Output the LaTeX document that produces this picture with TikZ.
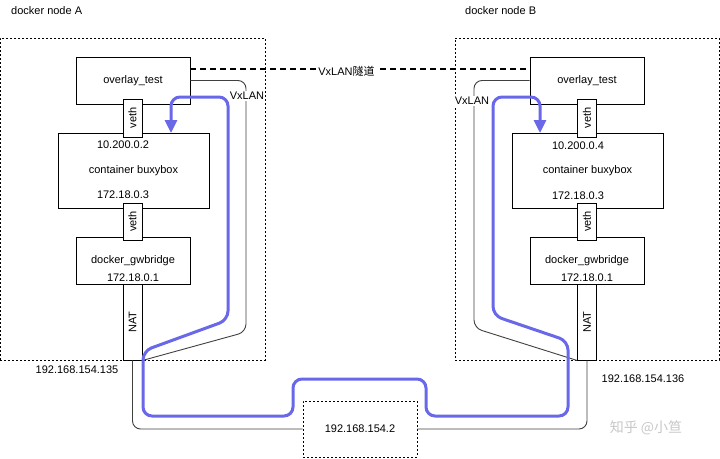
\documentclass[tikz,border=0pt]{standalone}
\usepackage{fontspec}
\setmainfont{Liberation Sans}
\newfontfamily\cjk{Noto Sans CJK SC}
\usepackage{xcolor}
\usetikzlibrary{arrows.meta,calc}
\definecolor{flow}{RGB}{104,104,232}
\tikzset{
  box/.style={draw,line width=0.9pt,fill=white,inner sep=0pt},
  host/.style={draw,dash pattern=on 2pt off 2pt,line width=0.8pt,inner sep=0pt},
  link/.style={draw,line width=0.9pt,fill=white,inner sep=0pt,minimum width=19pt},
  wire/.style={black!75,line width=0.9pt,rounded corners=8pt},
  tun/.style={line width=1.6pt,dash pattern=on 6pt off 4pt},
  flw/.style={flow,line width=3pt,rounded corners=9pt,{Triangle[length=13pt,width=12pt]}-{Triangle[length=13pt,width=12pt]}},
  lbl/.style={inner sep=1pt}
}

\begin{document}
\begin{tikzpicture}[x=1pt,y=-1pt,font=\fontsize{11}{13}\selectfont]
\useasboundingbox (0,0) rectangle (720,458);
% hosts
\node[host,minimum width=265pt,minimum height=322pt] (hostA) at (132.5,199) {};
\node[host,minimum width=264pt,minimum height=322pt] (hostB) at (587,199) {};
\node[lbl,anchor=west] (nameA) at (10,11) {docker node A};
\node[lbl,anchor=west] (nameB) at (464,11) {docker node B};
\node[host,minimum width=114pt,minimum height=56pt] (gw) at (360,429) {192.168.154.2};
% node A
\node[box,minimum width=114pt,minimum height=47pt] (ovA) at (133,80.5) {overlay\_test};
\node[box,minimum width=151pt,minimum height=75pt] (ctA) at (133.5,170.5) {container buxybox};
\node[lbl] (ipcA) at (123,145) {10.200.0.2};
\node[lbl] (ipdA) at (123,195) {172.18.0.3};
\node[box,minimum width=114pt,minimum height=47pt] (gbA) at (133,260.5) {docker\_gwbridge};
\node[lbl] (ipgA) at (133,278) {172.18.0.1};
\node[link,minimum height=38pt] (vethA1) at (132.5,118) {};
\node[rotate=90,lbl] at (vethA1) {veth};
\node[link,minimum height=37pt] (vethA2) at (132.5,221.5) {};
\node[rotate=90,lbl] at (vethA2) {veth};
\node[link,minimum height=76pt] (natA) at (132.5,322) {};
\node[rotate=90,lbl] at (natA) {NAT};
\node[lbl] (ipA) at (77,370) {192.168.154.135};
% node B
\node[box,minimum width=114pt,minimum height=47pt] (ovB) at (587,80.5) {overlay\_test};
\node[box,minimum width=151pt,minimum height=75pt] (ctB) at (587.5,170.5) {container buxybox};
\node[lbl] (ipcB) at (578,146) {10.200.0.4};
\node[lbl] (ipdB) at (578,196) {172.18.0.3};
\node[box,minimum width=114pt,minimum height=47pt] (gbB) at (587,260.5) {docker\_gwbridge};
\node[lbl] (ipgB) at (587,278) {172.18.0.1};
\node[link,minimum height=38pt] (vethB1) at (587,118) {};
\node[rotate=90,lbl] at (vethB1) {veth};
\node[link,minimum height=37pt] (vethB2) at (587,221.5) {};
\node[rotate=90,lbl] at (vethB2) {veth};
\node[link,minimum height=76pt] (natB) at (587,322) {};
\node[rotate=90,lbl] at (natB) {NAT};
\node[lbl] (ipB) at (643,379) {192.168.154.136};
% wires
\draw[tun] ($(ovA.east)+(0,-11.5)$) -- node[pos=0.46,fill=white,lbl,yshift=-2pt] {VxLAN{\cjk 隧道}} ($(ovB.west)+(0,-11.5)$);
\draw[wire] (ovA.east) -| (246,332) -- (natA.south east);
\node[fill=white,lbl] at (247,96) {VxLAN};
\draw[wire] (ovB.west) -| (474,328) -- (natB.south west);
\node[fill=white,lbl] at (472,101) {VxLAN};
\draw[wire] (natA.south) |- (gw.west);
\draw[wire] (gw.east) -| (natB.south);
% traffic
\coordinate (tipA) at (171,133);
\coordinate (tipB) at (540,133);
\draw[flw] (tipA) -- (171,97) -- (228,97) -- (228,320) -- (143,351) -- (143,416) -- (293,416)
  -- (293,379) -- (426,379) -- (426,416) -- (568,416) -- (568,341) -- (493,315.5) -- (493,97)
  -- (540,97) -- (tipB);
\node[lbl,text=black!22,font=\cjk\fontsize{14}{16}\selectfont] (mark) at (646,428) {知乎 @小笪};
\end{tikzpicture}
\end{document}
